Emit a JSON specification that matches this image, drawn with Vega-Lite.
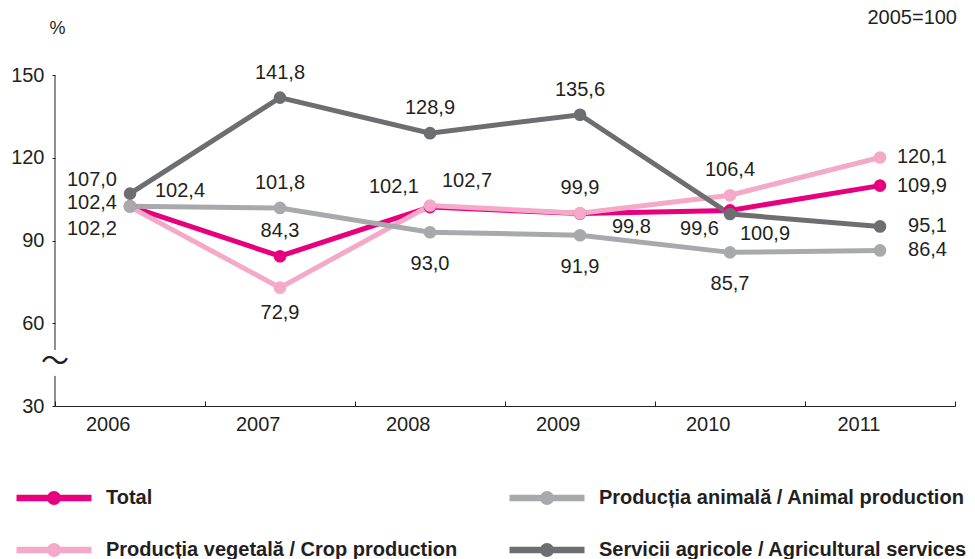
{
  "$schema": "https://vega.github.io/schema/vega-lite/v6.json",
  "width": 900,
  "height": 331,
  "autosize": {"type": "none"},
  "padding": {"left": 55, "top": 75, "right": 20, "bottom": 153},
  "background": "white",
  "title": {"text": "2005=100", "anchor": "end", "fontSize": 20, "fontWeight": "normal", "font": "Liberation Sans", "color": "#231f20", "offset": 0, "dx": -10, "dy": 9},
  "config": {
    "view": {"stroke": null},
    "font": "Liberation Sans",
    "locale": {"number": {"decimal": ",", "thousands": ".", "grouping": [3], "currency": ["", ""]}}
  },
  "data": {"values": [
    {"year": "2006", "s": "T", "series": "Total", "value": 102.4},
    {"year": "2007", "s": "T", "series": "Total", "value": 84.3},
    {"year": "2008", "s": "T", "series": "Total", "value": 102.1},
    {"year": "2009", "s": "T", "series": "Total", "value": 99.8},
    {"year": "2010", "s": "T", "series": "Total", "value": 100.9},
    {"year": "2011", "s": "T", "series": "Total", "value": 109.9},
    {"year": "2006", "s": "V", "series": "Producția vegetală / Crop production", "value": 102.2},
    {"year": "2007", "s": "V", "series": "Producția vegetală / Crop production", "value": 72.9},
    {"year": "2008", "s": "V", "series": "Producția vegetală / Crop production", "value": 102.7},
    {"year": "2009", "s": "V", "series": "Producția vegetală / Crop production", "value": 99.9},
    {"year": "2010", "s": "V", "series": "Producția vegetală / Crop production", "value": 106.4},
    {"year": "2011", "s": "V", "series": "Producția vegetală / Crop production", "value": 120.1},
    {"year": "2006", "s": "A", "series": "Producția animală / Animal production", "value": 102.4},
    {"year": "2007", "s": "A", "series": "Producția animală / Animal production", "value": 101.8},
    {"year": "2008", "s": "A", "series": "Producția animală / Animal production", "value": 93.0},
    {"year": "2009", "s": "A", "series": "Producția animală / Animal production", "value": 91.9},
    {"year": "2010", "s": "A", "series": "Producția animală / Animal production", "value": 85.7},
    {"year": "2011", "s": "A", "series": "Producția animală / Animal production", "value": 86.4},
    {"year": "2006", "s": "S", "series": "Servicii agricole / Agricultural services", "value": 107.0},
    {"year": "2007", "s": "S", "series": "Servicii agricole / Agricultural services", "value": 141.8},
    {"year": "2008", "s": "S", "series": "Servicii agricole / Agricultural services", "value": 128.9},
    {"year": "2009", "s": "S", "series": "Servicii agricole / Agricultural services", "value": 135.6},
    {"year": "2010", "s": "S", "series": "Servicii agricole / Agricultural services", "value": 99.6},
    {"year": "2011", "s": "S", "series": "Servicii agricole / Agricultural services", "value": 95.1}
  ]},
  "transform": [{"calculate": "datum.s + datum.year", "as": "k"}],
  "layer": [
    {
      "data": {"values": [{}]},
      "mark": {"type": "rule", "color": "#231f20", "strokeWidth": 1},
      "encoding": {
        "x": {"datum": "2006", "type": "ordinal", "bandPosition": 0},
        "y": {"datum": 30, "type": "quantitative"},
        "y2": {"datum": 40.9}
      }
    },
    {
      "data": {"values": [{}]},
      "mark": {"type": "rule", "color": "#231f20", "strokeWidth": 1},
      "encoding": {
        "x": {"datum": "2006", "type": "ordinal", "bandPosition": 0},
        "y": {"datum": 50.3, "type": "quantitative"},
        "y2": {"datum": 150}
      }
    },
    {
      "data": {"values": [{}]},
      "mark": {"type": "text", "text": "〜", "font": "Noto Sans CJK JP", "fontSize": 28, "align": "center", "baseline": "middle", "color": "#231f20"},
      "encoding": {
        "x": {"datum": "2006", "type": "ordinal", "bandPosition": 0},
        "y": {"datum": 45.5, "type": "quantitative"}
      }
    },
    {
      "mark": {"type": "line", "strokeWidth": 5, "point": {"filled": true, "size": 160, "opacity": 1}},
      "encoding": {
        "x": {"field": "year", "type": "ordinal", "scale": {"type": "band", "paddingInner": 0, "paddingOuter": 0},
          "axis": {"title": null, "labelAngle": 0, "labelFontSize": 20, "labelColor": "#231f20", "labelFont": "Liberation Sans", "tickBand": "extent", "tickSize": -5, "tickColor": "#231f20", "domainColor": "#231f20", "labelPadding": 23, "grid": false}},
        "y": {"field": "value", "type": "quantitative", "scale": {"domain": [30, 150], "nice": false, "zero": false},
          "axis": {"values": [30, 60, 90, 120, 150], "domain": false, "grid": false, "tickSize": 3, "tickColor": "#231f20", "labelPadding": 8, "labelFontSize": 20, "labelColor": "#231f20", "labelFont": "Liberation Sans",
            "title": "%", "titleAngle": 0, "titleX": 2, "titleY": -47, "titleAlign": "center", "titleBaseline": "middle", "titleFontSize": 18, "titleFontWeight": "normal", "titleColor": "#231f20", "titleFont": "Liberation Sans"}},
        "color": {"field": "series", "type": "nominal",
          "scale": {"domain": ["Total", "Producția vegetală / Crop production", "Producția animală / Animal production", "Servicii agricole / Agricultural services"],
                    "range": ["#e6007e", "#f4a9c9", "#a7a9ac", "#6d6e71"]},
          "legend": {"orient": "none", "legendX": -42, "legendY": 413, "columns": 2, "title": null, "padding": 0,
            "symbolType": "M-1,0H1M0.1,0A0.1,0.1 0 1,1 -0.1,0A0.1,0.1 0 1,1 0.1,0Z",
            "symbolSize": 5625, "symbolStrokeWidth": 6.5, "clipHeight": 20, "labelOffset": 11, "columnPadding": 48, "rowPadding": 32,
            "labelFont": "Liberation Sans", "labelFontSize": 20, "labelFontWeight": "bold", "labelColor": "#231f20", "labelLimit": 0,
            "encode": {"symbols": {"update": {"fill": {"scale": "color", "field": "value"}, "stroke": {"scale": "color", "field": "value"}, "opacity": {"value": 1}}}}}
        }
      }
    },
    {
      "transform": [{"filter": {"field": "k", "oneOf": ["S2007", "S2008", "S2009", "A2007", "T2007", "V2010", "V2009"]}}],
      "mark": {"type": "text", "align": "center", "baseline": "middle", "dx": 0, "dy": -25, "fontSize": 20, "color": "#231f20"},
      "encoding": {"x": {"field": "year", "type": "ordinal"}, "y": {"field": "value", "type": "quantitative"}, "text": {"field": "value", "type": "quantitative", "format": ".1f"}}
    },
    {
      "transform": [{"filter": {"field": "k", "oneOf": ["V2007"]}}],
      "mark": {"type": "text", "align": "center", "baseline": "middle", "dx": 0, "dy": 25, "fontSize": 20, "color": "#231f20"},
      "encoding": {"x": {"field": "year", "type": "ordinal"}, "y": {"field": "value", "type": "quantitative"}, "text": {"field": "value", "type": "quantitative", "format": ".1f"}}
    },
    {
      "transform": [{"filter": {"field": "k", "oneOf": ["A2008", "A2009", "A2010"]}}],
      "mark": {"type": "text", "align": "center", "baseline": "middle", "dx": 0, "dy": 32, "fontSize": 20, "color": "#231f20"},
      "encoding": {"x": {"field": "year", "type": "ordinal"}, "y": {"field": "value", "type": "quantitative"}, "text": {"field": "value", "type": "quantitative", "format": ".1f"}}
    },
    {
      "transform": [{"filter": {"field": "year", "equal": "2011"}}],
      "mark": {"type": "text", "align": "right", "baseline": "middle", "dx": 67, "dy": 0, "fontSize": 20, "color": "#231f20"},
      "encoding": {"x": {"field": "year", "type": "ordinal"}, "y": {"field": "value", "type": "quantitative"}, "text": {"field": "value", "type": "quantitative", "format": ".1f"}}
    },
    {
      "transform": [{"filter": {"field": "k", "oneOf": ["S2006"]}}],
      "mark": {"type": "text", "align": "right", "baseline": "middle", "dx": -13, "dy": -14, "fontSize": 20, "color": "#231f20"},
      "encoding": {"x": {"field": "year", "type": "ordinal"}, "y": {"field": "value", "type": "quantitative"}, "text": {"field": "value", "type": "quantitative", "format": ".1f"}}
    },
    {
      "transform": [{"filter": {"field": "k", "oneOf": ["T2006"]}}],
      "mark": {"type": "text", "align": "right", "baseline": "middle", "dx": -13, "dy": -3, "fontSize": 20, "color": "#231f20"},
      "encoding": {"x": {"field": "year", "type": "ordinal"}, "y": {"field": "value", "type": "quantitative"}, "text": {"field": "value", "type": "quantitative", "format": ".1f"}}
    },
    {
      "transform": [{"filter": {"field": "k", "oneOf": ["V2006"]}}],
      "mark": {"type": "text", "align": "right", "baseline": "middle", "dx": -13, "dy": 22, "fontSize": 20, "color": "#231f20"},
      "encoding": {"x": {"field": "year", "type": "ordinal"}, "y": {"field": "value", "type": "quantitative"}, "text": {"field": "value", "type": "quantitative", "format": ".1f"}}
    },
    {
      "transform": [{"filter": {"field": "k", "oneOf": ["A2006"]}}],
      "mark": {"type": "text", "align": "left", "baseline": "middle", "dx": 25, "dy": -15, "fontSize": 20, "color": "#231f20"},
      "encoding": {"x": {"field": "year", "type": "ordinal"}, "y": {"field": "value", "type": "quantitative"}, "text": {"field": "value", "type": "quantitative", "format": ".1f"}}
    },
    {
      "transform": [{"filter": {"field": "k", "oneOf": ["T2008"]}}],
      "mark": {"type": "text", "align": "right", "baseline": "middle", "dx": -11, "dy": -20, "fontSize": 20, "color": "#231f20"},
      "encoding": {"x": {"field": "year", "type": "ordinal"}, "y": {"field": "value", "type": "quantitative"}, "text": {"field": "value", "type": "quantitative", "format": ".1f"}}
    },
    {
      "transform": [{"filter": {"field": "k", "oneOf": ["V2008"]}}],
      "mark": {"type": "text", "align": "left", "baseline": "middle", "dx": 12, "dy": -24, "fontSize": 20, "color": "#231f20"},
      "encoding": {"x": {"field": "year", "type": "ordinal"}, "y": {"field": "value", "type": "quantitative"}, "text": {"field": "value", "type": "quantitative", "format": ".1f"}}
    },
    {
      "transform": [{"filter": {"field": "k", "oneOf": ["T2009"]}}],
      "mark": {"type": "text", "align": "left", "baseline": "middle", "dx": 32, "dy": 14, "fontSize": 20, "color": "#231f20"},
      "encoding": {"x": {"field": "year", "type": "ordinal"}, "y": {"field": "value", "type": "quantitative"}, "text": {"field": "value", "type": "quantitative", "format": ".1f"}}
    },
    {
      "transform": [{"filter": {"field": "k", "oneOf": ["S2010"]}}],
      "mark": {"type": "text", "align": "right", "baseline": "middle", "dx": -11, "dy": 15, "fontSize": 20, "color": "#231f20"},
      "encoding": {"x": {"field": "year", "type": "ordinal"}, "y": {"field": "value", "type": "quantitative"}, "text": {"field": "value", "type": "quantitative", "format": ".1f"}}
    },
    {
      "transform": [{"filter": {"field": "k", "oneOf": ["T2010"]}}],
      "mark": {"type": "text", "align": "left", "baseline": "middle", "dx": 10, "dy": 24, "fontSize": 20, "color": "#231f20"},
      "encoding": {"x": {"field": "year", "type": "ordinal"}, "y": {"field": "value", "type": "quantitative"}, "text": {"field": "value", "type": "quantitative", "format": ".1f"}}
    }
  ]
}
